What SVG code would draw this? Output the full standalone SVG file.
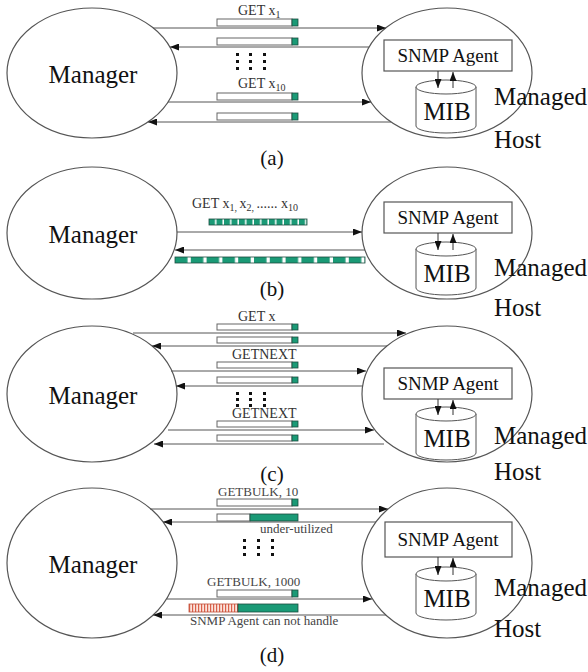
<svg xmlns="http://www.w3.org/2000/svg" width="588" height="672" viewBox="0 0 588 672">
<defs>
<marker id="ah" markerWidth="9" markerHeight="7" refX="9" refY="3.5" orient="auto" markerUnits="userSpaceOnUse">
<path d="M0,0 L9,3.5 L0,7 z" fill="#111"/>
</marker>
<pattern id="seg1" x="209" y="0" width="7.5" height="10" patternUnits="userSpaceOnUse">
<rect x="0" y="0" width="7.5" height="10" fill="#fff"/>
<rect x="0" y="0" width="6" height="10" fill="#1a9a76"/>
</pattern>
<pattern id="seg2" x="175" y="0" width="15.8" height="10" patternUnits="userSpaceOnUse">
<rect x="0" y="0" width="15.8" height="10" fill="#fff"/>
<rect x="0" y="0" width="12.5" height="10" fill="#1a9a76"/>
</pattern>
<pattern id="hatch" x="189" y="0" width="3" height="10" patternUnits="userSpaceOnUse">
<rect x="0" y="0" width="3" height="10" fill="#fbe3dc"/>
<rect x="0" y="0" width="1.2" height="10" fill="#d9604a"/>
</pattern>
<g id="mib">
<path d="M0,7 L0,46 A30,7 0 0 0 60,46 L60,7" fill="#fff" stroke="#555" stroke-width="1"/>
<ellipse cx="30" cy="7" rx="30" ry="7" fill="#fff" stroke="#555" stroke-width="1"/>
<text x="31" y="40" class="mib">MIB</text>
</g>
</defs>
<style>
.ell{fill:#fff;stroke:#555;stroke-width:1.2}
.ln{stroke:#555;stroke-width:1;fill:none}
.ar{stroke:#333;stroke-width:1;fill:none}
.bar{fill:#fff;stroke:#666;stroke-width:1}
.gr{fill:#1a9a76;stroke:#1d4d40;stroke-width:0.8}
.box{fill:#fff;stroke:#555;stroke-width:1.2}
text{font-family:"Liberation Serif","Times New Roman",serif;fill:#111}
.mgr{font-size:25px;text-anchor:middle}
.agt{font-size:19px;text-anchor:middle}
.mib{font-size:25px;text-anchor:middle}
.mh{font-size:25px}
.lab{font-size:14px;fill:#333}
.sm{font-size:13px;fill:#444}
.cap{font-size:21px;text-anchor:middle}
.dot{fill:#111}
</style>

<!-- ===== Panel (a) ===== -->
<g id="manager-a"><ellipse class="ell" cx="92" cy="73" rx="85" ry="65"/><text class="mgr" x="93" y="83">Manager</text></g>
<g id="host-a">
<ellipse class="ell" cx="447" cy="73" rx="85" ry="65"/>
<rect class="box" x="384" y="40" width="128" height="31"/>
<text class="agt" x="448" y="62">SNMP Agent</text>
<use href="#mib" x="416" y="80"/>
<line class="ar" x1="438" y1="71" x2="438" y2="88" marker-end="url(#ah)"/>
<line class="ar" x1="453" y1="88" x2="453" y2="72" marker-end="url(#ah)"/>
<text class="mh" x="494" y="105">Managed</text>
<text class="mh" x="494" y="148">Host</text>
</g>
<g id="connectors-a">
<line class="ln" x1="153" y1="28" x2="386" y2="28" marker-end="url(#ah)"/>
<line class="ln" x1="369" y1="47" x2="170" y2="47" marker-end="url(#ah)"/>
<line class="ln" x1="168" y1="102" x2="371" y2="102" marker-end="url(#ah)"/>
<line class="ln" x1="391" y1="122" x2="148" y2="122" marker-end="url(#ah)"/>
<rect class="bar" x="217" y="19" width="75" height="7"/><rect class="gr" x="292" y="19" width="6" height="7"/>
<rect class="bar" x="217" y="38" width="75" height="7"/><rect class="gr" x="292" y="38" width="6" height="7"/>
<rect class="bar" x="217" y="93" width="75" height="7"/><rect class="gr" x="292" y="93" width="6" height="7"/>
<rect class="bar" x="217" y="113" width="75" height="7"/><rect class="gr" x="292" y="113" width="6" height="7"/>
<text class="lab" x="238" y="15">GET x<tspan font-size="10" dy="3">1</tspan></text>
<text class="lab" x="238" y="88">GET x<tspan font-size="10" dy="3">10</tspan></text>
<g class="dot">
<rect x="236" y="53" width="3" height="3"/><rect x="249" y="53" width="3" height="3"/><rect x="263" y="53" width="3" height="3"/>
<rect x="236" y="60" width="3" height="3"/><rect x="249" y="60" width="3" height="3"/><rect x="263" y="60" width="3" height="3"/>
<rect x="236" y="67" width="3" height="3"/><rect x="249" y="67" width="3" height="3"/><rect x="263" y="67" width="3" height="3"/>
</g>
</g>
<text class="cap" x="272" y="165">(a)</text>

<!-- ===== Panel (b) ===== -->
<g id="manager-b"><ellipse class="ell" cx="92" cy="233" rx="85" ry="66"/><text class="mgr" x="93" y="243">Manager</text></g>
<g id="host-b">
<ellipse class="ell" cx="447" cy="233" rx="85" ry="66"/>
<rect class="box" x="384" y="202" width="128" height="31"/>
<text class="agt" x="448" y="224">SNMP Agent</text>
<use href="#mib" x="416" y="242"/>
<line class="ar" x1="438" y1="233" x2="438" y2="250" marker-end="url(#ah)"/>
<line class="ar" x1="453" y1="250" x2="453" y2="234" marker-end="url(#ah)"/>
<text class="mh" x="494" y="276">Managed</text>
<text class="mh" x="494" y="316">Host</text>
</g>
<g id="connectors-b">
<text class="lab" x="192" y="208">GET x<tspan font-size="10" dy="3">1, </tspan><tspan dy="-3">x</tspan><tspan font-size="10" dy="3">2, </tspan><tspan dy="-3">...... x</tspan><tspan font-size="10" dy="3">10</tspan></text>
<rect x="209" y="219" width="98" height="6" fill="url(#seg1)" stroke="#1d4d40" stroke-width="0.8"/>
<line class="ln" x1="177" y1="232" x2="362" y2="232" marker-end="url(#ah)"/>
<line class="ln" x1="365" y1="250" x2="175" y2="250" marker-end="url(#ah)"/>
<rect x="175" y="257" width="190" height="6" fill="url(#seg2)" stroke="#1d4d40" stroke-width="0.8"/>
</g>
<text class="cap" x="272" y="296">(b)</text>

<!-- ===== Panel (c) ===== -->
<g id="manager-c"><ellipse class="ell" cx="92" cy="394" rx="85" ry="68"/><text class="mgr" x="93" y="404">Manager</text></g>
<g id="host-c">
<ellipse class="ell" cx="447" cy="394" rx="85" ry="68"/>
<rect class="box" x="384" y="368" width="128" height="31"/>
<text class="agt" x="448" y="390">SNMP Agent</text>
<use href="#mib" x="416" y="407"/>
<line class="ar" x1="438" y1="399" x2="438" y2="415" marker-end="url(#ah)"/>
<line class="ar" x1="453" y1="415" x2="453" y2="400" marker-end="url(#ah)"/>
<text class="mh" x="494" y="444">Managed</text>
<text class="mh" x="494" y="480">Host</text>
</g>
<g id="connectors-c">
<line class="ln" x1="133" y1="333" x2="406" y2="333" marker-end="url(#ah)"/>
<line class="ln" x1="387" y1="346" x2="152" y2="346" marker-end="url(#ah)"/>
<line class="ln" x1="171" y1="371" x2="366" y2="371" marker-end="url(#ah)"/>
<line class="ln" x1="363" y1="386" x2="176" y2="386" marker-end="url(#ah)"/>
<line class="ln" x1="168" y1="430" x2="374" y2="430" marker-end="url(#ah)"/>
<line class="ln" x1="384" y1="444" x2="154" y2="444" marker-end="url(#ah)"/>
<rect class="bar" x="217" y="324" width="75" height="6"/><rect class="gr" x="292" y="324" width="6" height="6"/>
<rect class="bar" x="217" y="337" width="75" height="6"/><rect class="gr" x="292" y="337" width="6" height="6"/>
<rect class="bar" x="217" y="362" width="75" height="6"/><rect class="gr" x="292" y="362" width="6" height="6"/>
<rect class="bar" x="217" y="377" width="75" height="6"/><rect class="gr" x="292" y="377" width="6" height="6"/>
<rect class="bar" x="217" y="421" width="75" height="6"/><rect class="gr" x="292" y="421" width="6" height="6"/>
<rect class="bar" x="217" y="435" width="75" height="6"/><rect class="gr" x="292" y="435" width="6" height="6"/>
<text class="lab" x="238" y="321">GET x</text>
<text class="lab" x="232" y="359">GETNEXT</text>
<text class="lab" x="232" y="418">GETNEXT</text>
<g class="dot">
<rect x="236" y="392" width="3" height="3"/><rect x="249" y="392" width="3" height="3"/><rect x="263" y="392" width="3" height="3"/>
<rect x="236" y="398" width="3" height="3"/><rect x="249" y="398" width="3" height="3"/><rect x="263" y="398" width="3" height="3"/>
<rect x="236" y="404" width="3" height="3"/><rect x="249" y="404" width="3" height="3"/><rect x="263" y="404" width="3" height="3"/>
</g>
</g>
<text class="cap" x="272" y="481">(c)</text>

<!-- ===== Panel (d) ===== -->
<g id="manager-d"><ellipse class="ell" cx="92" cy="563" rx="85" ry="75"/><text class="mgr" x="93" y="573">Manager</text></g>
<g id="host-d">
<ellipse class="ell" cx="447" cy="563" rx="85" ry="75"/>
<rect class="box" x="385" y="522" width="127" height="35"/>
<text class="agt" x="448" y="546">SNMP Agent</text>
<use href="#mib" x="416" y="567"/>
<line class="ar" x1="438" y1="557" x2="438" y2="575" marker-end="url(#ah)"/>
<line class="ar" x1="453" y1="575" x2="453" y2="558" marker-end="url(#ah)"/>
<text class="mh" x="494" y="596">Managed</text>
<text class="mh" x="494" y="637">Host</text>
</g>
<g id="connectors-d">
<line class="ln" x1="150" y1="509" x2="388" y2="509" marker-end="url(#ah)"/>
<line class="ln" x1="376" y1="522" x2="163" y2="522" marker-end="url(#ah)"/>
<line class="ln" x1="167" y1="599" x2="372" y2="599" marker-end="url(#ah)"/>
<line class="ln" x1="386" y1="615" x2="153" y2="615" marker-end="url(#ah)"/>
<rect class="bar" x="217" y="499" width="75" height="7"/><rect class="gr" x="292" y="499" width="6" height="7"/>
<rect class="bar" x="217" y="514" width="33" height="7"/><rect class="gr" x="250" y="514" width="48" height="7"/>
<rect class="bar" x="217" y="590" width="75" height="7"/><rect class="gr" x="292" y="590" width="6" height="7"/>
<rect x="189" y="604" width="49" height="8" fill="url(#hatch)" stroke="#c0503a" stroke-width="0.8"/><rect class="gr" x="238" y="604" width="60" height="8"/>
<text class="sm" x="218" y="496">GETBULK, 10</text>
<text class="sm" x="260" y="533">under-utilized</text>
<text class="sm" x="207" y="586">GETBULK, 1000</text>
<text class="sm" x="190" y="625">SNMP Agent can not handle</text>
<g class="dot">
<rect x="243" y="539" width="3" height="3"/><rect x="257" y="539" width="3" height="3"/><rect x="271" y="539" width="3" height="3"/>
<rect x="243" y="546" width="3" height="3"/><rect x="257" y="546" width="3" height="3"/><rect x="271" y="546" width="3" height="3"/>
<rect x="243" y="553" width="3" height="3"/><rect x="257" y="553" width="3" height="3"/><rect x="271" y="553" width="3" height="3"/>
</g>
</g>
<text class="cap" x="272" y="662">(d)</text>
</svg>
